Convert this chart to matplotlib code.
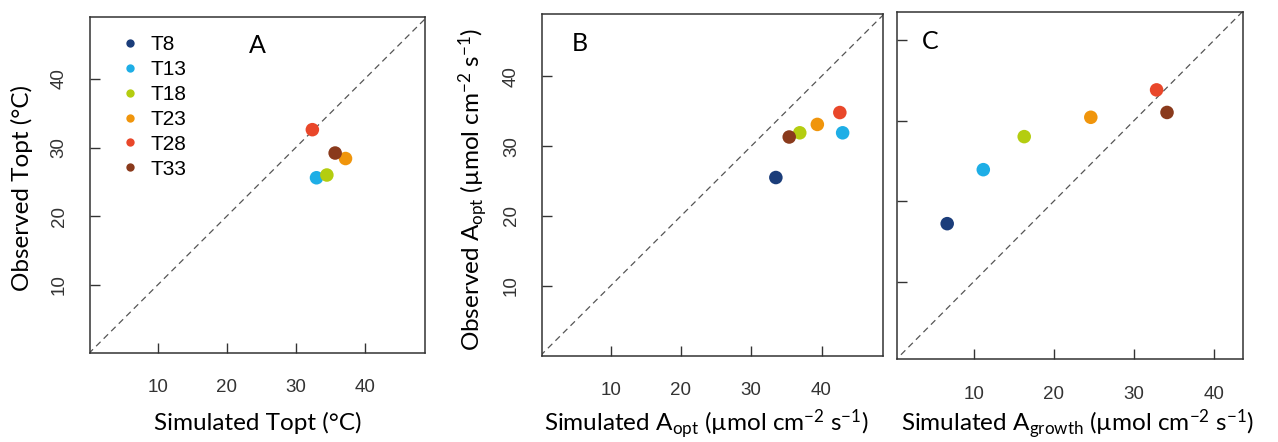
import numpy as np
import matplotlib.pyplot as plt

plt.rcParams['font.family'] = ['Liberation Sans', 'DejaVu Sans']
plt.rcParams['mathtext.fontset'] = 'custom'
plt.rcParams['mathtext.rm'] = 'Lato'
plt.rcParams['mathtext.it'] = 'Lato'

# treatment labels and colours
series = ["T8", "T13", "T18", "T23", "T28", "T33"]
colors = ["#1b3d7a", "#1eaee6", "#b4cd10", "#f0950c", "#e9472a", "#8a3a1c"]

# panel A (no T8 point)
topt_sim = [np.nan, 33.0, 34.5, 37.2, 32.4, 35.7]
topt_obs = [np.nan, 25.6, 26.0, 28.4, 32.6, 29.2]

# panel B
aopt_sim = [33.5, 43.0, 36.9, 39.4, 42.6, 35.4]
aopt_obs = [25.5, 31.9, 31.9, 33.1, 34.8, 31.3]

# panel C
agrowth_sim = [6.7, 11.2, 16.3, 24.6, 32.8, 34.1]
agrowth_obs = [17.2, 23.9, 28.0, 30.4, 33.8, 31.0]

ticks = [10, 20, 30, 40]
tick_col = "#333333"
label_font = "Lato"

fig = plt.figure(figsize=(12.78, 4.42), dpi=100)

axA = fig.add_axes([0.0704, 0.2014, 0.2621, 0.7602])
axB = fig.add_axes([0.4243, 0.1952, 0.2664, 0.7731])
axC = fig.add_axes([0.7016, 0.1871, 0.2712, 0.7864])


def style_axes(ax, xlim, ylim, ylabels=True):
    ax.set_xlim(*xlim)
    ax.set_ylim(*ylim)
    ax.plot([0, 50], [0, 50], linestyle=(0, (5, 3.5)), color="#555555", lw=0.9, zorder=1)
    ax.set_xticks(ticks)
    ax.set_yticks(ticks)
    ax.tick_params(direction='in', length=7, width=1, color="#333333",
                   labelsize=13.5, labelcolor=tick_col)
    ax.tick_params(axis='x', pad=19)
    ax.tick_params(axis='y', pad=16)
    for lab in ax.get_yticklabels():
        lab.set_rotation(90)
        lab.set_va('center')
    if not ylabels:
        ax.set_yticklabels([])
    for sp in ax.spines.values():
        sp.set_color("#333333")
        sp.set_linewidth(1.1)


def draw_points(ax, xs, ys):
    for x, y, c, name in zip(xs, ys, colors, series):
        ax.scatter([x], [y], s=95, color=c, edgecolors='none', zorder=3, label=name)


style_axes(axA, (0.2, 48.7), (0.1, 49.0))
draw_points(axA, topt_sim, topt_obs)
handles = [plt.Line2D([], [], marker='o', linestyle='none', markersize=6,
                      color=c, markeredgecolor='none') for c in colors]
axA.legend(handles, series, loc='upper left', bbox_to_anchor=(0.07, 0.97),
           frameon=False, fontsize=15, handlelength=0.8, handletextpad=0.6,
           labelspacing=0.28, borderaxespad=0)
axA.text(0.5, 0.915, "A", transform=axA.transAxes, fontsize=18,
         ha='center', va='center', family=label_font)

style_axes(axB, (0.27, 48.7), (0.0, 48.9))
draw_points(axB, aopt_sim, aopt_obs)
axB.text(0.11, 0.915, "B", transform=axB.transAxes, fontsize=18,
         ha='center', va='center', family=label_font)

style_axes(axC, (0.4, 43.6), (0.37, 43.5), ylabels=False)
draw_points(axC, agrowth_sim, agrowth_obs)
axC.text(0.098, 0.915, "C", transform=axC.transAxes, fontsize=18,
         ha='center', va='center', family=label_font)

W, H = 1278.0, 442.0
fs = 17.5
fig.text(258 / W, 1 - 423 / H, "Simulated Topt (°C)", fontsize=fs,
         ha='center', va='center', family=label_font)
fig.text(22 / W, 1 - 188 / H, "Observed Topt (°C)", fontsize=fs, rotation=90,
         ha='center', va='center', family=label_font)
fig.text(706 / W, 1 - 424 / H, r"Simulated A$_{\rm opt}$ (µmol cm$^{-2}$ s$^{-1}$)",
         fontsize=fs, ha='center', va='center', family=label_font)
fig.text(473 / W, 1 - 189 / H, r"Observed A$_{\rm opt}$ (µmol cm$^{-2}$ s$^{-1}$)",
         fontsize=fs, rotation=90, ha='center', va='center', family=label_font)
fig.text(1077 / W, 1 - 424 / H, r"Simulated A$_{\rm growth}$ (µmol cm$^{-2}$ s$^{-1}$)",
         fontsize=fs, ha='center', va='center', family=label_font)

plt.savefig("out.png", dpi=100)
